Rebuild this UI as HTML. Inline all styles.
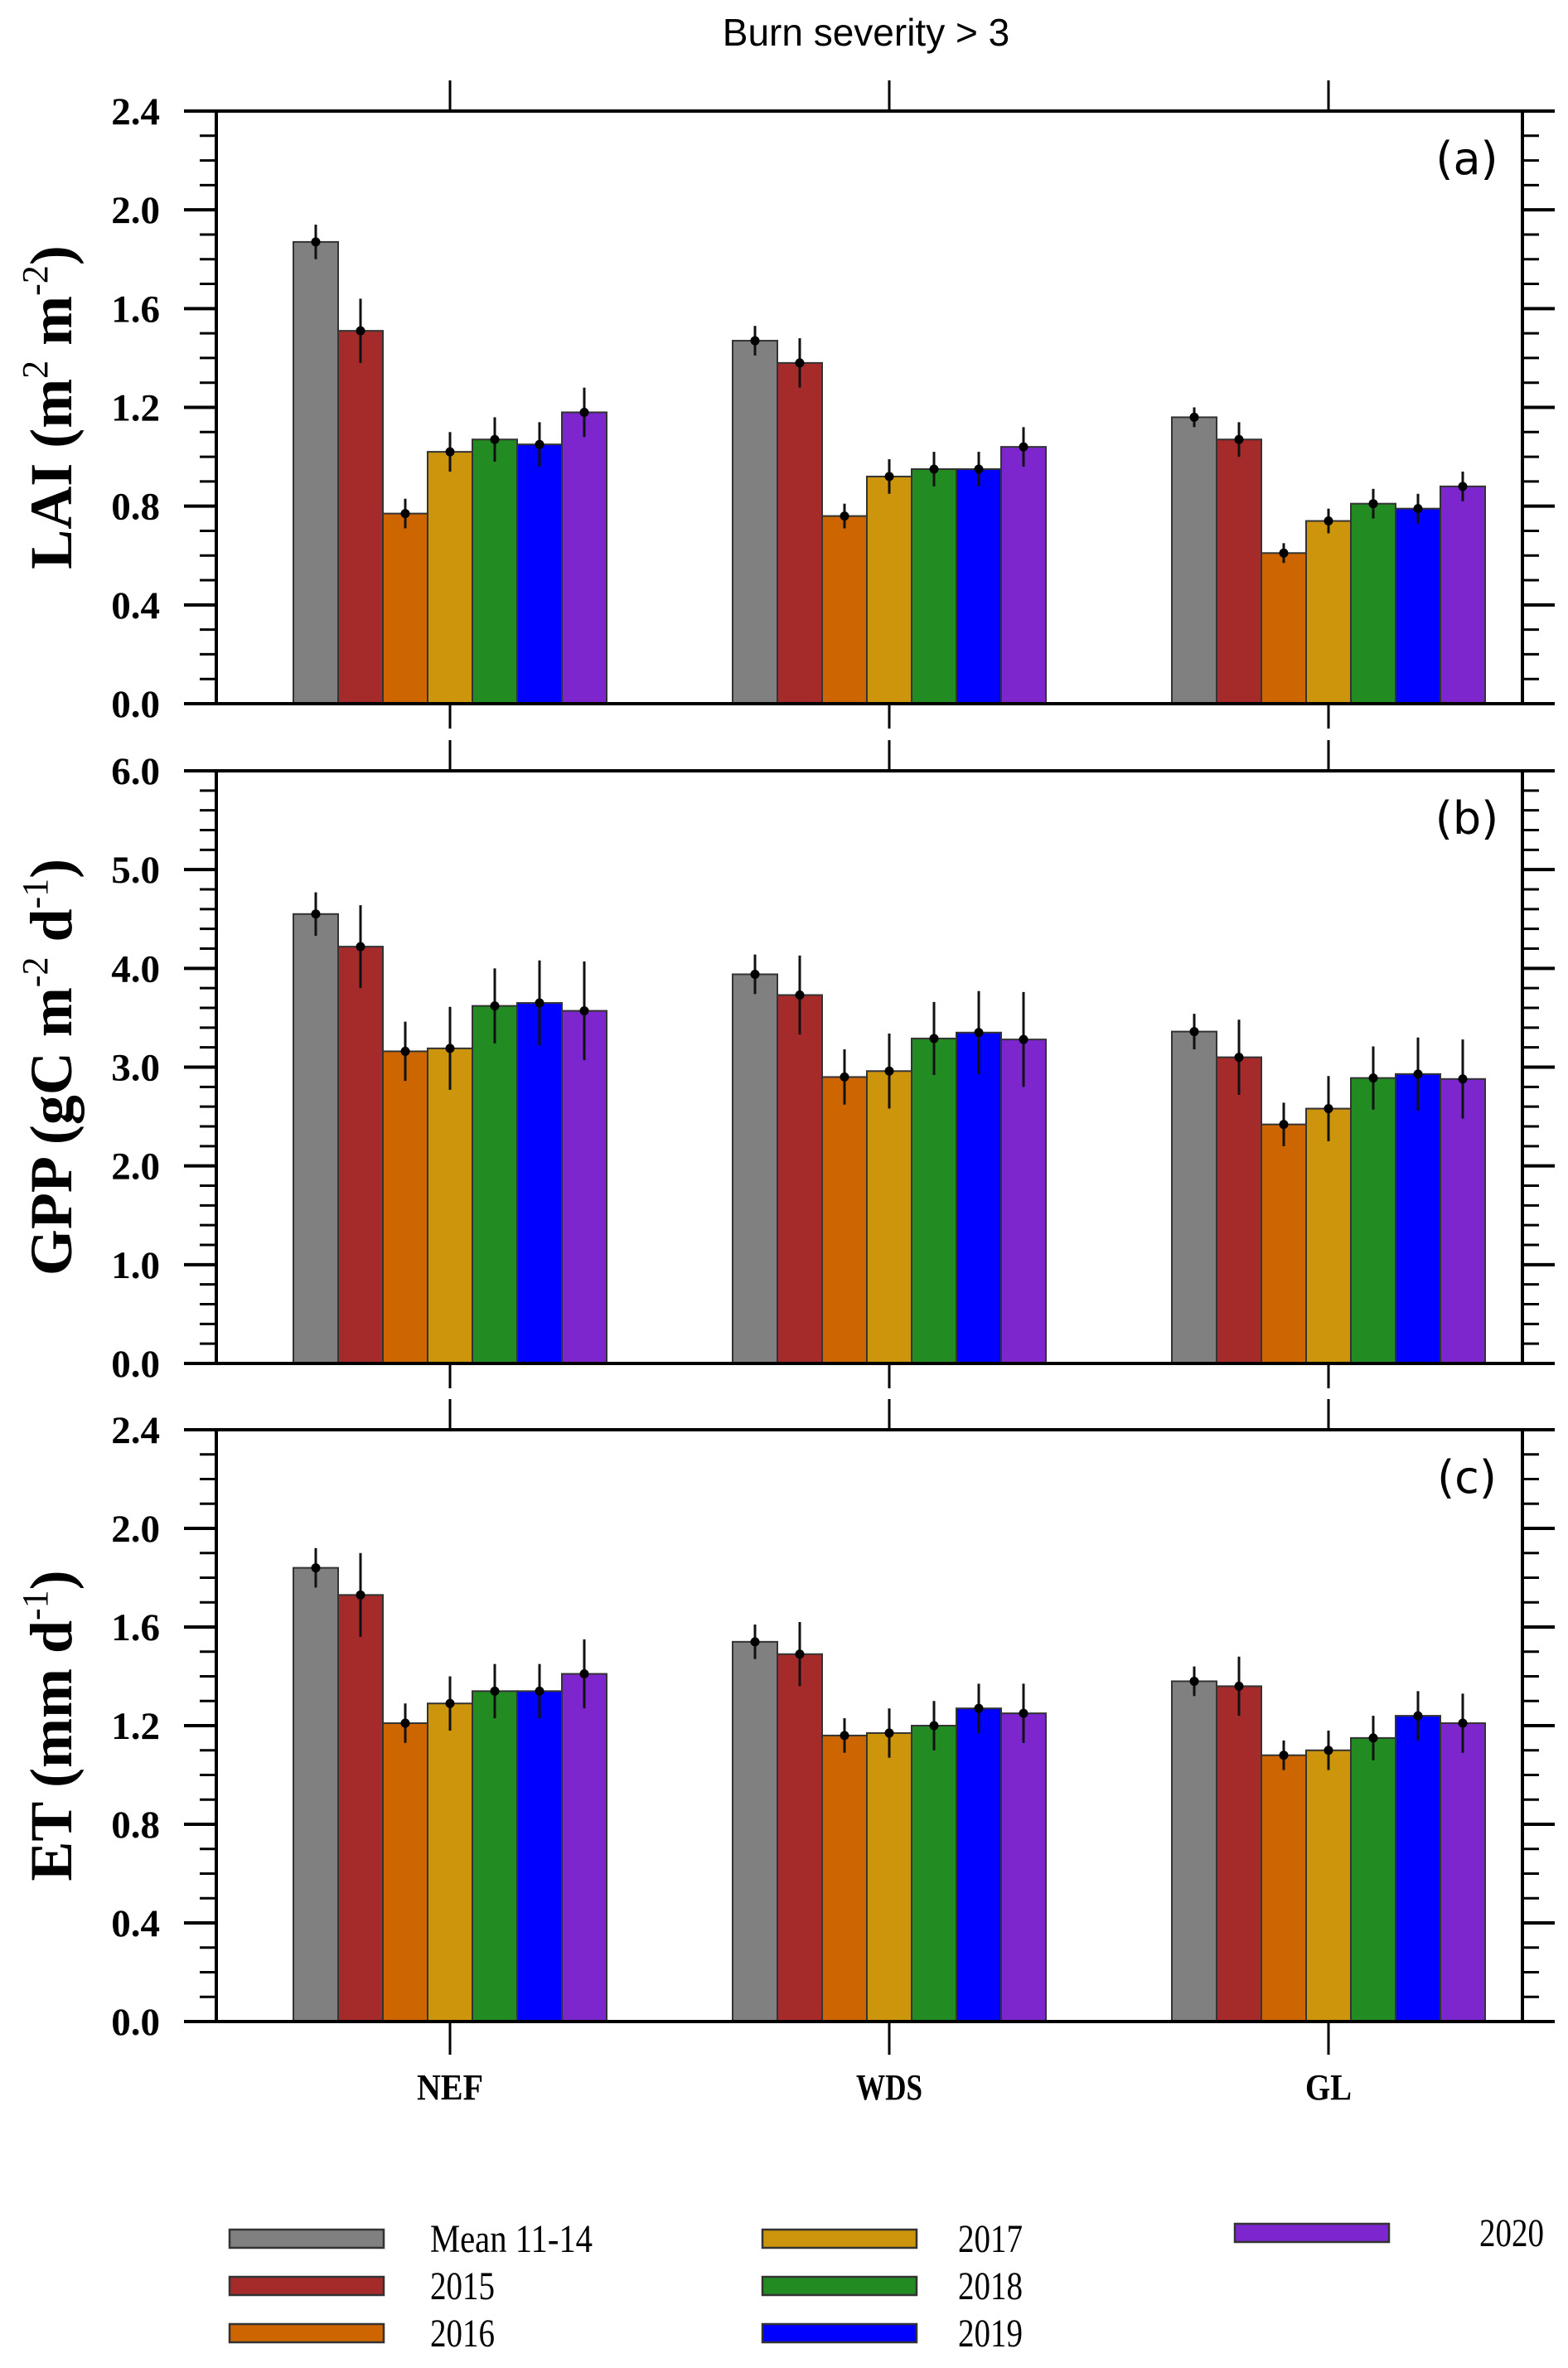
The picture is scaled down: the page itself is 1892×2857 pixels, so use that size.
<!DOCTYPE html>
<html><head><meta charset="utf-8"><style>
html,body{margin:0;padding:0;background:#fff}
svg{display:block}
</style></head><body>
<svg id="chart" width="1892" height="2857" viewBox="0 0 1892 2857" xmlns="http://www.w3.org/2000/svg">
<text x="1045" y="55" text-anchor="middle" font-family="Liberation Sans, sans-serif" font-size="46">Burn severity &gt; 3</text>
<g id="panels"></g>
<g id="legend"></g>
</svg>
<script>
const categories = ["NEF", "WDS", "GL"];
const seriesNames = ["Mean 11-14", "2015", "2016", "2017", "2018", "2019", "2020"];
const seriesColors = ["#808080", "#a52a2a", "#cd6600", "#cd950c", "#228b22", "#0000ff", "#7d26cd"];

const laiValues = [[1.87,1.51,0.77,1.02,1.07,1.05,1.18],[1.47,1.38,0.76,0.92,0.95,0.95,1.04],[1.16,1.07,0.61,0.74,0.81,0.79,0.88]];
const laiErrors = [[0.07,0.13,0.06,0.08,0.09,0.09,0.10],[0.06,0.10,0.05,0.07,0.07,0.07,0.08],[0.04,0.07,0.04,0.05,0.06,0.06,0.06]];
const gppValues = [[4.55,4.22,3.16,3.19,3.62,3.65,3.57],[3.94,3.73,2.90,2.96,3.29,3.35,3.28],[3.36,3.10,2.42,2.58,2.89,2.93,2.88]];
const gppErrors = [[0.22,0.42,0.30,0.42,0.38,0.43,0.50],[0.20,0.40,0.28,0.38,0.37,0.42,0.48],[0.18,0.38,0.22,0.33,0.32,0.37,0.40]];
const etValues = [[1.84,1.73,1.21,1.29,1.34,1.34,1.41],[1.54,1.49,1.16,1.17,1.20,1.27,1.25],[1.38,1.36,1.08,1.10,1.15,1.24,1.21]];
const etErrors = [[0.08,0.17,0.08,0.11,0.11,0.11,0.14],[0.07,0.13,0.07,0.10,0.10,0.10,0.12],[0.06,0.12,0.06,0.08,0.09,0.10,0.12]];

const laiTicks = ["0.0","0.4","0.8","1.2","1.6","2.0","2.4"];
const gppTicks = ["0.0","1.0","2.0","3.0","4.0","5.0","6.0"];
const etTicks = ["0.0","0.4","0.8","1.2","1.6","2.0","2.4"];

const NS = "http://www.w3.org/2000/svg";
function mk(tag, attrs, parent){const e=document.createElementNS(NS,tag);for(const k in attrs)e.setAttribute(k,attrs[k]);parent.appendChild(e);return e;}

const L=261, R=1837;
const barW=54;
function xCat(i){return 543 + i*530;}

const panels=[
 {name:"lai",top:134,bot:849,max:2.4,minor:0.1,major:0.4,ticks:laiTicks,vals:laiValues,errs:laiErrors,label:"(a)",title:["LAI (m","2"," m","-2",")"]},
 {name:"gpp",top:930,bot:1645,max:6.0,minor:0.2,major:1.0,ticks:gppTicks,vals:gppValues,errs:gppErrors,label:"(b)",title:["GPP (gC m","-2"," d","-1",")"]},
 {name:"et",top:1725,bot:2439,max:2.4,minor:0.1,major:0.4,ticks:etTicks,vals:etValues,errs:etErrors,label:"(c)",title:["ET (mm d","-1",")"]}
];
const root=document.getElementById('panels');
panels.forEach((p,pi)=>{
  const g=mk('g',{},root);
  
  
  const y=v=>p.bot-(v/p.max)*(p.bot-p.top);
  p.vals.forEach((grp,ci)=>{
    grp.forEach((v,si)=>{
      const x0=xCat(ci)-3.5*barW+si*barW;
      const r=mk('rect',{x:x0,y:y(v),width:barW,height:p.bot-y(v),fill:seriesColors[si],stroke:"#333",'stroke-width':2},g);
      
      
    });
  });
  p.vals.forEach((grp,ci)=>{
    grp.forEach((v,si)=>{
      const cx=xCat(ci)-3*barW+si*barW;
      const e=p.errs[ci][si];
      const l=mk('line',{x1:cx,x2:cx,y1:y(v+e),y2:y(v-e),stroke:"#111",'stroke-width':3},g);
      
      
      const c=mk('circle',{cx:cx,cy:y(v),r:5.5,fill:"#000"},g);
      
      
    });
  });
  const ax=mk('g',{stroke:"#000",fill:"none"},g);
  
  
  mk('rect',{x:L,y:p.top,width:R-L,height:p.bot-p.top,'stroke-width':4},ax);
  const n=Math.round(p.max/p.minor);
  for(let k=0;k<=n;k++){
    const v=k*p.minor, yy=y(v);
    const isMaj=Math.abs((v/p.major)-Math.round(v/p.major))<1e-6;
    const len=isMaj?39:20;
    mk('line',{x1:L-len,x2:L,y1:yy,y2:yy,'stroke-width':isMaj?4:3},ax);
    mk('line',{x1:R,x2:R+len,y1:yy,y2:yy,'stroke-width':isMaj?4:3},ax);
  }
  p.ticks.forEach((t,k)=>{
    const tx=mk('text',{x:193,y:y(k*p.major)+16,'text-anchor':'end','font-family':'Liberation Serif, serif','font-weight':'bold','font-size':47,fill:'#000',stroke:'none'},g);
    tx.textContent=t;
    
    
  });
  categories.forEach((c,ci)=>{
    mk('line',{x1:xCat(ci),x2:xCat(ci),y1:p.top-37,y2:p.top,'stroke-width':3},ax);
    mk('line',{x1:xCat(ci),x2:xCat(ci),y1:p.bot,y2:p.bot+(pi==2?40:30),'stroke-width':3},ax);
  });
  const lb=mk('text',{x:1770,y:p.top+76,'text-anchor':'middle','font-family':'DejaVu Sans, Liberation Sans, sans-serif','font-size':54,fill:'#000'},g);
  lb.textContent=p.label;
  
  
  const cy=(p.top+p.bot)/2;
  const tt=mk('text',{x:0,y:0,transform:`translate(86,${cy}) rotate(-90)`,'text-anchor':'middle','font-family':'Liberation Serif, serif','font-weight':'bold','font-size':72,fill:'#000'},g);
  
  
  p.title.forEach((s,i)=>{
    const sp=mk('tspan',{},tt);
    sp.textContent=s;
    if(i%2==1){sp.setAttribute('font-size','44');sp.setAttribute('dy','-29');sp.setAttribute('font-weight','normal');}
    else if(i>0){sp.setAttribute('dy','29');}
  });
});
categories.forEach((c,ci)=>{
  const t=mk('text',{x:xCat(ci),y:2533,'text-anchor':'middle','font-family':'Liberation Serif, serif','font-weight':'bold','font-size':44,fill:'#000',textLength:(c.length==3?80:56),lengthAdjust:'spacingAndGlyphs'},document.getElementById('chart'));
  t.textContent=c;
  
  
});
const leg=document.getElementById('legend');
const legPos=[[277,2701],[277,2758],[277,2815],[920,2701],[920,2758],[920,2815],[1490,2694]];
const txtX=[519,519,519,1156,1156,1156,1785];
seriesNames.forEach((s,i)=>{
  const [lx,ly]=legPos[i];
  const g=mk('g',{},leg);
  
  
  mk('rect',{x:lx,y:ly-11,width:186,height:22,fill:seriesColors[i],stroke:'#333','stroke-width':2.5},g);
  const t=mk('text',{x:txtX[i],y:ly+16,'font-family':'Liberation Serif, serif','font-size':48,fill:'#000',textLength:(s.length>4?196:78),lengthAdjust:'spacingAndGlyphs'},g);
  t.textContent=s;
});
</script>
</body></html>
